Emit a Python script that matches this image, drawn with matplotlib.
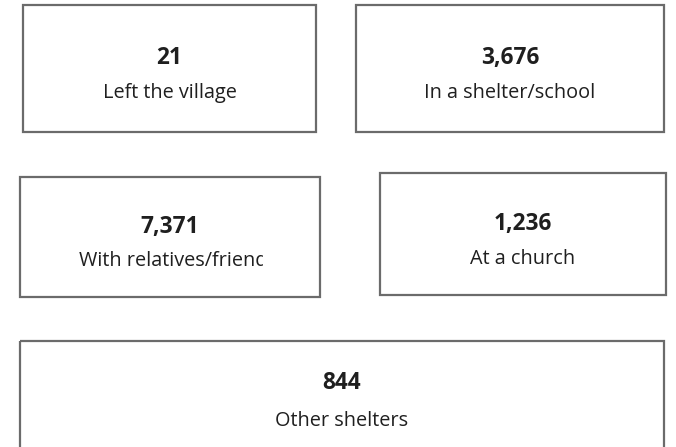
import matplotlib
matplotlib.use("Agg")
import matplotlib.pyplot as plt
from matplotlib.patches import Rectangle
from matplotlib.transforms import Bbox, TransformedBbox

# ============================
# Data
# ============================
values = [21, 3676, 7371, 1236, 844]
labels = ["Left the village", "In a shelter/school", "With relatives/friends",
          "At a church", "Other shelters"]

# card layout in pixels: (left, top, right, bottom, number baseline, label baseline)
cards = [
    (23, 5, 316, 132, 64, 98),
    (356, 5, 664, 132, 64, 98),
    (20, 177, 320, 297, 233, 266),
    (380, 173, 666, 295, 230, 264),
    (20, 341, 664, 460, 389, 426),
]

W, H = 676, 447
plt.rcParams["font.family"] = ["Open Sans", "DejaVu Sans"]

fig = plt.figure(figsize=(W / 100, H / 100), dpi=100)
ax = fig.add_axes([0, 0, 1, 1])
ax.set_xlim(0, W)
ax.set_ylim(H, 0)
ax.axis("off")

TXT = "#1f1f1f"

for val, lab, (l, t, r, b, ny, ly) in zip(values, labels, cards):
    ax.add_patch(Rectangle((l, t), r - l, b - t, fill=False,
                           edgecolor="#6b6b6b", linewidth=1.6))
    cx = (l + r) / 2
    ax.text(cx, ny, f"{val:,}", ha="center", va="baseline", fontsize=16.3,
            fontweight="bold", color=TXT)
    # label container: ~62% of the card width, centred
    cw = 0.62 * (r - l)
    c0 = cx - cw / 2
    lt = ax.text(cx, ly, lab, ha="center", va="baseline", fontsize=14.3, color=TXT)
    fig.canvas.draw()
    if lt.get_window_extent().width > cw:
        # overflowing label: start at the container's left edge and cut at its right
        lt.set_ha("left")
        lt.set_x(c0 + 2)
        lt.set_clip_box(TransformedBbox(Bbox.from_extents(c0, t, c0 + cw, b), ax.transData))
        lt.set_clip_on(True)

fig.savefig("out.png", dpi=100)
